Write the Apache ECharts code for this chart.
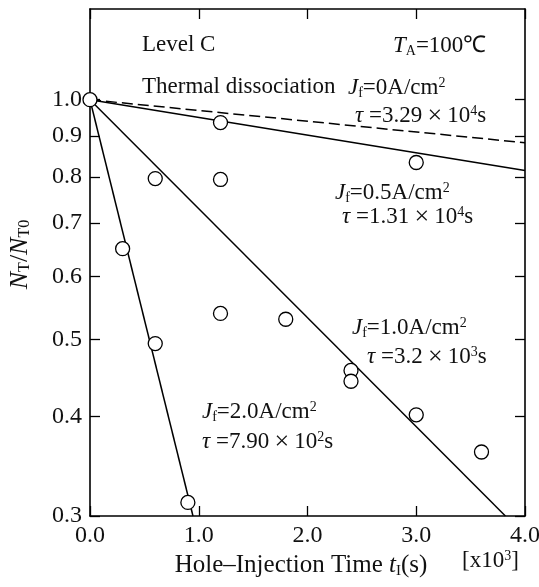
<!DOCTYPE html>
<html>
<head>
<meta charset="utf-8">
<script src="https://cdn.jsdelivr.net/npm/echarts@6/dist/echarts.min.js"></script>
<style>
html,body{margin:0;padding:0;background:#fff;}
#chart{width:539px;height:587px;}
</style>
</head>
<body>
<div id="chart"></div>
<script>
// ---- data ----
var xTicks = [0, 1, 2, 3, 4];
var yTicks = [0.3, 0.4, 0.5, 0.6, 0.7, 0.8, 0.9, 1.0];

// measured points (t in 10^3 s, NT/NT0)
var tPoints = [0, 0.3, 0.6, 0.6, 0.9, 1.2, 1.2, 1.2, 1.8, 2.4, 2.4, 3.0, 3.0, 3.6];
var nPoints = [1.0, 0.65, 0.796, 0.494, 0.312, 0.936, 0.794, 0.539, 0.530, 0.457, 0.443, 0.834, 0.402, 0.361];

// fitted lines (start/end)
var fitJ0   = [[0, 1.0], [4.0, 0.883]];
var fitJ05  = [[0, 1.0], [4.0, 0.815]];
var fitJ10  = [[0, 1.0], [3.82, 0.30]];
var fitJ20  = [[0, 1.0], [0.947, 0.30]];

// annotation texts
var currents = ['0', '0.5', '1.0', '2.0'];
var tauMant  = ['3.29', '1.31', '3.2', '7.90'];
var tauExp   = ['4', '4', '3', '2'];

// ---- chart ----
var FONT = "'Liberation Serif','Times New Roman',serif";
var INK = '#111';
var FS = 23;
var rich = {
  n:   {fontFamily: FONT, fontSize: FS, color: INK, lineHeight: 24},
  i:   {fontFamily: FONT, fontSize: FS, color: INK, fontStyle: 'italic', lineHeight: 24},
  x:   {fontFamily: FONT, fontSize: 26, color: INK, lineHeight: 24},
  sub: {fontFamily: FONT, fontSize: 14, color: INK, verticalAlign: 'bottom', lineHeight: 6},
  sup: {fontFamily: FONT, fontSize: 14, color: INK, verticalAlign: 'top', lineHeight: 12}
};
function jText(k){ return '{i|J}{sub|f}{n|=' + currents[k] + 'A/cm}{sup|2}'; }
function tauText(k){ return '{i|τ}{n| =' + tauMant[k] + '}{x|\u2009×\u2009}{n|10}{sup|' + tauExp[k] + '}{n|s}'; }
function txt(str, x, y){
  return {type: 'text', x: x, y: y, silent: true,
    style: {text: str, rich: rich, align: 'left', verticalAlign: 'middle', font: FS + 'px ' + FONT, fill: INK}};
}

var log10 = function(v){ return Math.log(v) / Math.LN10; };
var yMin = 0.3, yMax = 1.3;

var chart = echarts.init(document.getElementById('chart'), null, {renderer: 'canvas'});
var axisLineStyle = {color: '#000', width: 1.6};
var tickStyle = {color: '#000', width: 1.3};

chart.setOption({
  animation: false,
  backgroundColor: '#fff',
  grid: {left: 90, right: 14, top: 9, bottom: 71, containLabel: false, outerBoundsMode: 'none'},
  xAxis: [
    {type: 'value', position: 'bottom', min: 0, max: 4, interval: 1,
     axisLine: {show: true, onZero: false, lineStyle: axisLineStyle},
     axisTick: {show: true, inside: true, length: 10, lineStyle: tickStyle},
     axisLabel: {show: true, margin: 8, fontFamily: FONT, fontSize: 24, color: INK,
                 formatter: function(v){ return v.toFixed(1); }},
     splitLine: {show: false},
     name: '{n|Hole–Injection Time }{i|t}{sub|I}{n|(s)}',
     nameLocation: 'middle', nameGap: 30,
     nameTextStyle: {rich: {
        n: {fontFamily: FONT, fontSize: 25, color: INK, lineHeight: 26},
        i: {fontFamily: FONT, fontSize: 25, color: INK, fontStyle: 'italic', lineHeight: 26},
        sub: {fontFamily: FONT, fontSize: 15, color: INK, verticalAlign: 'bottom', lineHeight: 6}
     }, padding: [0, 13, 0, 0]}},
    {type: 'value', position: 'top', min: 0, max: 4, interval: 1,
     axisLine: {show: true, onZero: false, lineStyle: axisLineStyle},
     axisTick: {show: true, inside: true, length: 10, lineStyle: tickStyle},
     axisLabel: {show: false}, splitLine: {show: false}}
  ],
  yAxis: [
    {type: 'log', logBase: 10, min: yMin, max: yMax, show: false,
     axisLine: {onZero: false}, splitLine: {show: false}},
    {type: 'value', position: 'left', min: log10(yMin), max: log10(yMax),
     axisLine: {show: true, onZero: false, lineStyle: axisLineStyle},
     axisTick: {show: true, inside: true, length: 10, customValues: yTicks.map(log10),
                lineStyle: tickStyle},
     axisLabel: {show: true, margin: 8, fontFamily: FONT, fontSize: 24, color: INK,
                 customValues: yTicks.map(log10),
                 formatter: function(v){ return Math.pow(10, v).toFixed(1); }},
     splitLine: {show: false},
     name: '{i|N}{sub|T}{n|/}{i|N}{sub|T0}',
     nameLocation: 'middle', nameRotate: 90, nameGap: 57,
     nameTextStyle: {rich: {
        n: {fontFamily: FONT, fontSize: 26, color: INK, lineHeight: 26},
        i: {fontFamily: FONT, fontSize: 26, color: INK, fontStyle: 'italic', lineHeight: 26},
        sub: {fontFamily: FONT, fontSize: 16, color: INK, verticalAlign: 'bottom', lineHeight: 6}
     }, padding: [0, 0, 0, 16]}},
    {type: 'value', position: 'right', min: log10(yMin), max: log10(yMax),
     axisLine: {show: true, onZero: false, lineStyle: axisLineStyle},
     axisTick: {show: true, inside: true, length: 10, customValues: yTicks.map(log10),
                lineStyle: tickStyle},
     axisLabel: {show: false}, splitLine: {show: false}}
  ],
  series: [
    {type: 'line', name: 'Jf=0', data: fitJ0, yAxisIndex: 0, symbol: 'none',
     lineStyle: {color: '#000', width: 1.5, type: [11, 5]}, z: 2},
    {type: 'line', name: 'Jf=0.5', data: fitJ05, yAxisIndex: 0, symbol: 'none',
     lineStyle: {color: '#000', width: 1.5}, z: 2},
    {type: 'line', name: 'Jf=1.0', data: fitJ10, yAxisIndex: 0, symbol: 'none',
     lineStyle: {color: '#000', width: 1.5}, z: 2},
    {type: 'line', name: 'Jf=2.0', data: fitJ20, yAxisIndex: 0, symbol: 'none',
     lineStyle: {color: '#000', width: 1.5}, z: 2},
    {type: 'scatter', name: 'measured', yAxisIndex: 0, clip: false,
     data: tPoints.map(function(t, k){ return [t, nPoints[k]]; }),
     symbol: 'circle', symbolSize: 14,
     itemStyle: {color: '#fff', borderColor: '#000', borderWidth: 1.3, opacity: 1}, z: 5}
  ],
  graphic: [
    txt('{n|Level C}', 142, 45),
    txt('{i|T}{sub|A}{n|=100℃}', 393, 46),
    txt('{n|Thermal dissociation}', 142, 87),
    txt(jText(0), 348, 88),
    txt(tauText(0), 355, 116),
    txt(jText(1), 335, 193),
    txt(tauText(1), 342, 217),
    txt(jText(2), 352, 328),
    txt(tauText(2), 367, 357),
    txt(jText(3), 202, 412),
    txt(tauText(3), 202, 442),
    txt('{n|[x10}{sup|3}{n|]}', 462, 561)
  ]
});
</script>
</body>
</html>
